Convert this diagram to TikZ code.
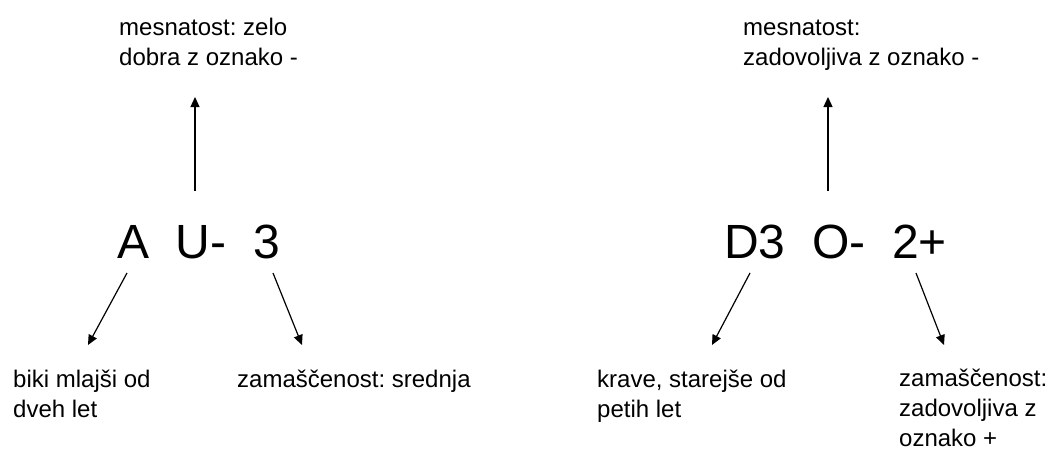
\documentclass[tikz,border=0pt]{standalone}
\usepackage{fontspec}
\setmainfont{Liberation Sans}
\usetikzlibrary{arrows.meta}
\frenchspacing
\begin{document}
\begin{tikzpicture}[x=1pt,y=-1pt,
  lbl/.style={anchor=base west,inner sep=0pt,align=left,font=\fontsize{24}{30}\selectfont},
  code/.style={anchor=base west,inner sep=0pt,font=\fontsize{48}{56}\selectfont},
  arr/.style={line width=1.2pt,-{Triangle[length=10pt,width=9pt]}}]
\useasboundingbox (0,0) rectangle (1050,450);
% left group (multi-line labels are placed by the baseline of their last line)
\node[code] (cl) at (117,258) {A\ \ U-\ \ 3};
\node[lbl] (tl) at (119,65) {mesnatost: zelo\\dobra z oznako -};
\node[lbl] (bl1) at (13,417) {biki mlajši od\\dveh let};
\node[lbl] (bl2) at (237,387) {zamaščenost: srednja};
\coordinate (l0s) at (195,191); \coordinate (l0e) at (195,97);
\coordinate (l1s) at (127,273); \coordinate (l1e) at (88,345);
\coordinate (l2s) at (273,273); \coordinate (l2e) at (302,345);
\draw[arr] (l0s) -- (l0e);
\draw[arr] (l1s) -- (l1e);
\draw[arr] (l2s) -- (l2e);
% right group
\node[code] (cr) at (724,258) {D3\ \ O-\ \ 2+};
\node[lbl] (tr) at (743,65) {mesnatost:\\zadovoljiva z oznako -};
\node[lbl] (br1) at (597,417) {krave, starejše od\\petih let};
\node[lbl] (br2) at (899,446) {zamaščenost:\\zadovoljiva z\\oznako +};
\coordinate (r0s) at (828,191); \coordinate (r0e) at (828,97);
\coordinate (r1s) at (750,273); \coordinate (r1e) at (712,345);
\coordinate (r2s) at (916,273); \coordinate (r2e) at (944,345);
\draw[arr] (r0s) -- (r0e);
\draw[arr] (r1s) -- (r1e);
\draw[arr] (r2s) -- (r2e);
\end{tikzpicture}
\end{document}
